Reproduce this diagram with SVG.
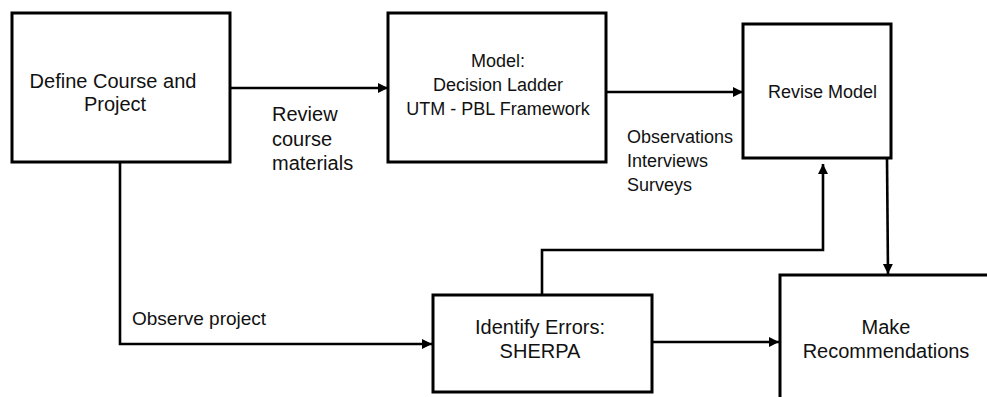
<svg xmlns="http://www.w3.org/2000/svg" width="987" height="397" viewBox="0 0 987 397">
<style>
.box{fill:#fff;stroke:#000;stroke-width:3}
.ln{fill:none;stroke:#000;stroke-width:2.6}
text{font-family:"Liberation Sans",Arial,sans-serif;fill:#111}
.c{text-anchor:middle}
</style>
<defs>
<marker id="ah" markerUnits="userSpaceOnUse" markerWidth="11" markerHeight="11" refX="10" refY="5" orient="auto">
<path d="M0,0 L10,5 L0,10 z" fill="#000"/>
</marker>
</defs>
<rect width="987" height="397" fill="#fff"/>
<g id="connectors">
<path class="ln" d="M230,88 L388,88" marker-end="url(#ah)"/>
<path class="ln" d="M606,92 L743,92" marker-end="url(#ah)"/>
<path class="ln" d="M120,162 L120,344 L432,344" marker-end="url(#ah)"/>
<path class="ln" d="M542,294 L542,250 L823,250 L823,164" marker-end="url(#ah)"/>
<path class="ln" d="M887,158 L888,274" marker-end="url(#ah)"/>
<path class="ln" d="M652,342 L779,342" marker-end="url(#ah)"/>
<text x="272" y="121" font-size="20">Review</text>
<text x="272" y="146" font-size="20">course</text>
<text x="272" y="170" font-size="20">materials</text>
<text x="627" y="143" font-size="18">Observations</text>
<text x="627" y="167" font-size="18">Interviews</text>
<text x="627" y="191" font-size="18">Surveys</text>
<text x="132" y="325" font-size="19">Observe project</text>
</g>
<g id="define">
<rect class="box" x="12" y="13" width="218" height="149"/>
<text class="c" x="113" y="88" font-size="20">Define Course and</text>
<text class="c" x="115" y="111" font-size="20">Project</text>
</g>
<g id="model">
<rect class="box" x="388" y="13" width="218" height="149"/>
<text class="c" x="498" y="67" font-size="18">Model:</text>
<text class="c" x="498" y="91" font-size="18">Decision Ladder</text>
<text class="c" x="498" y="115" font-size="18">UTM - PBL Framework</text>
</g>
<g id="revise">
<rect class="box" x="743" y="24" width="148" height="134"/>
<text x="768" y="98" font-size="18">Revise Model</text>
</g>
<g id="identify">
<rect class="box" x="433" y="295" width="219" height="97"/>
<text class="c" x="540" y="334" font-size="20">Identify Errors:</text>
<text class="c" x="540" y="358" font-size="20">SHERPA</text>
</g>
<g id="recommend">
<rect class="box" x="780" y="275" width="230" height="150"/>
<text class="c" x="886" y="334" font-size="20">Make</text>
<text class="c" x="886" y="358" font-size="20">Recommendations</text>
</g>
</svg>
